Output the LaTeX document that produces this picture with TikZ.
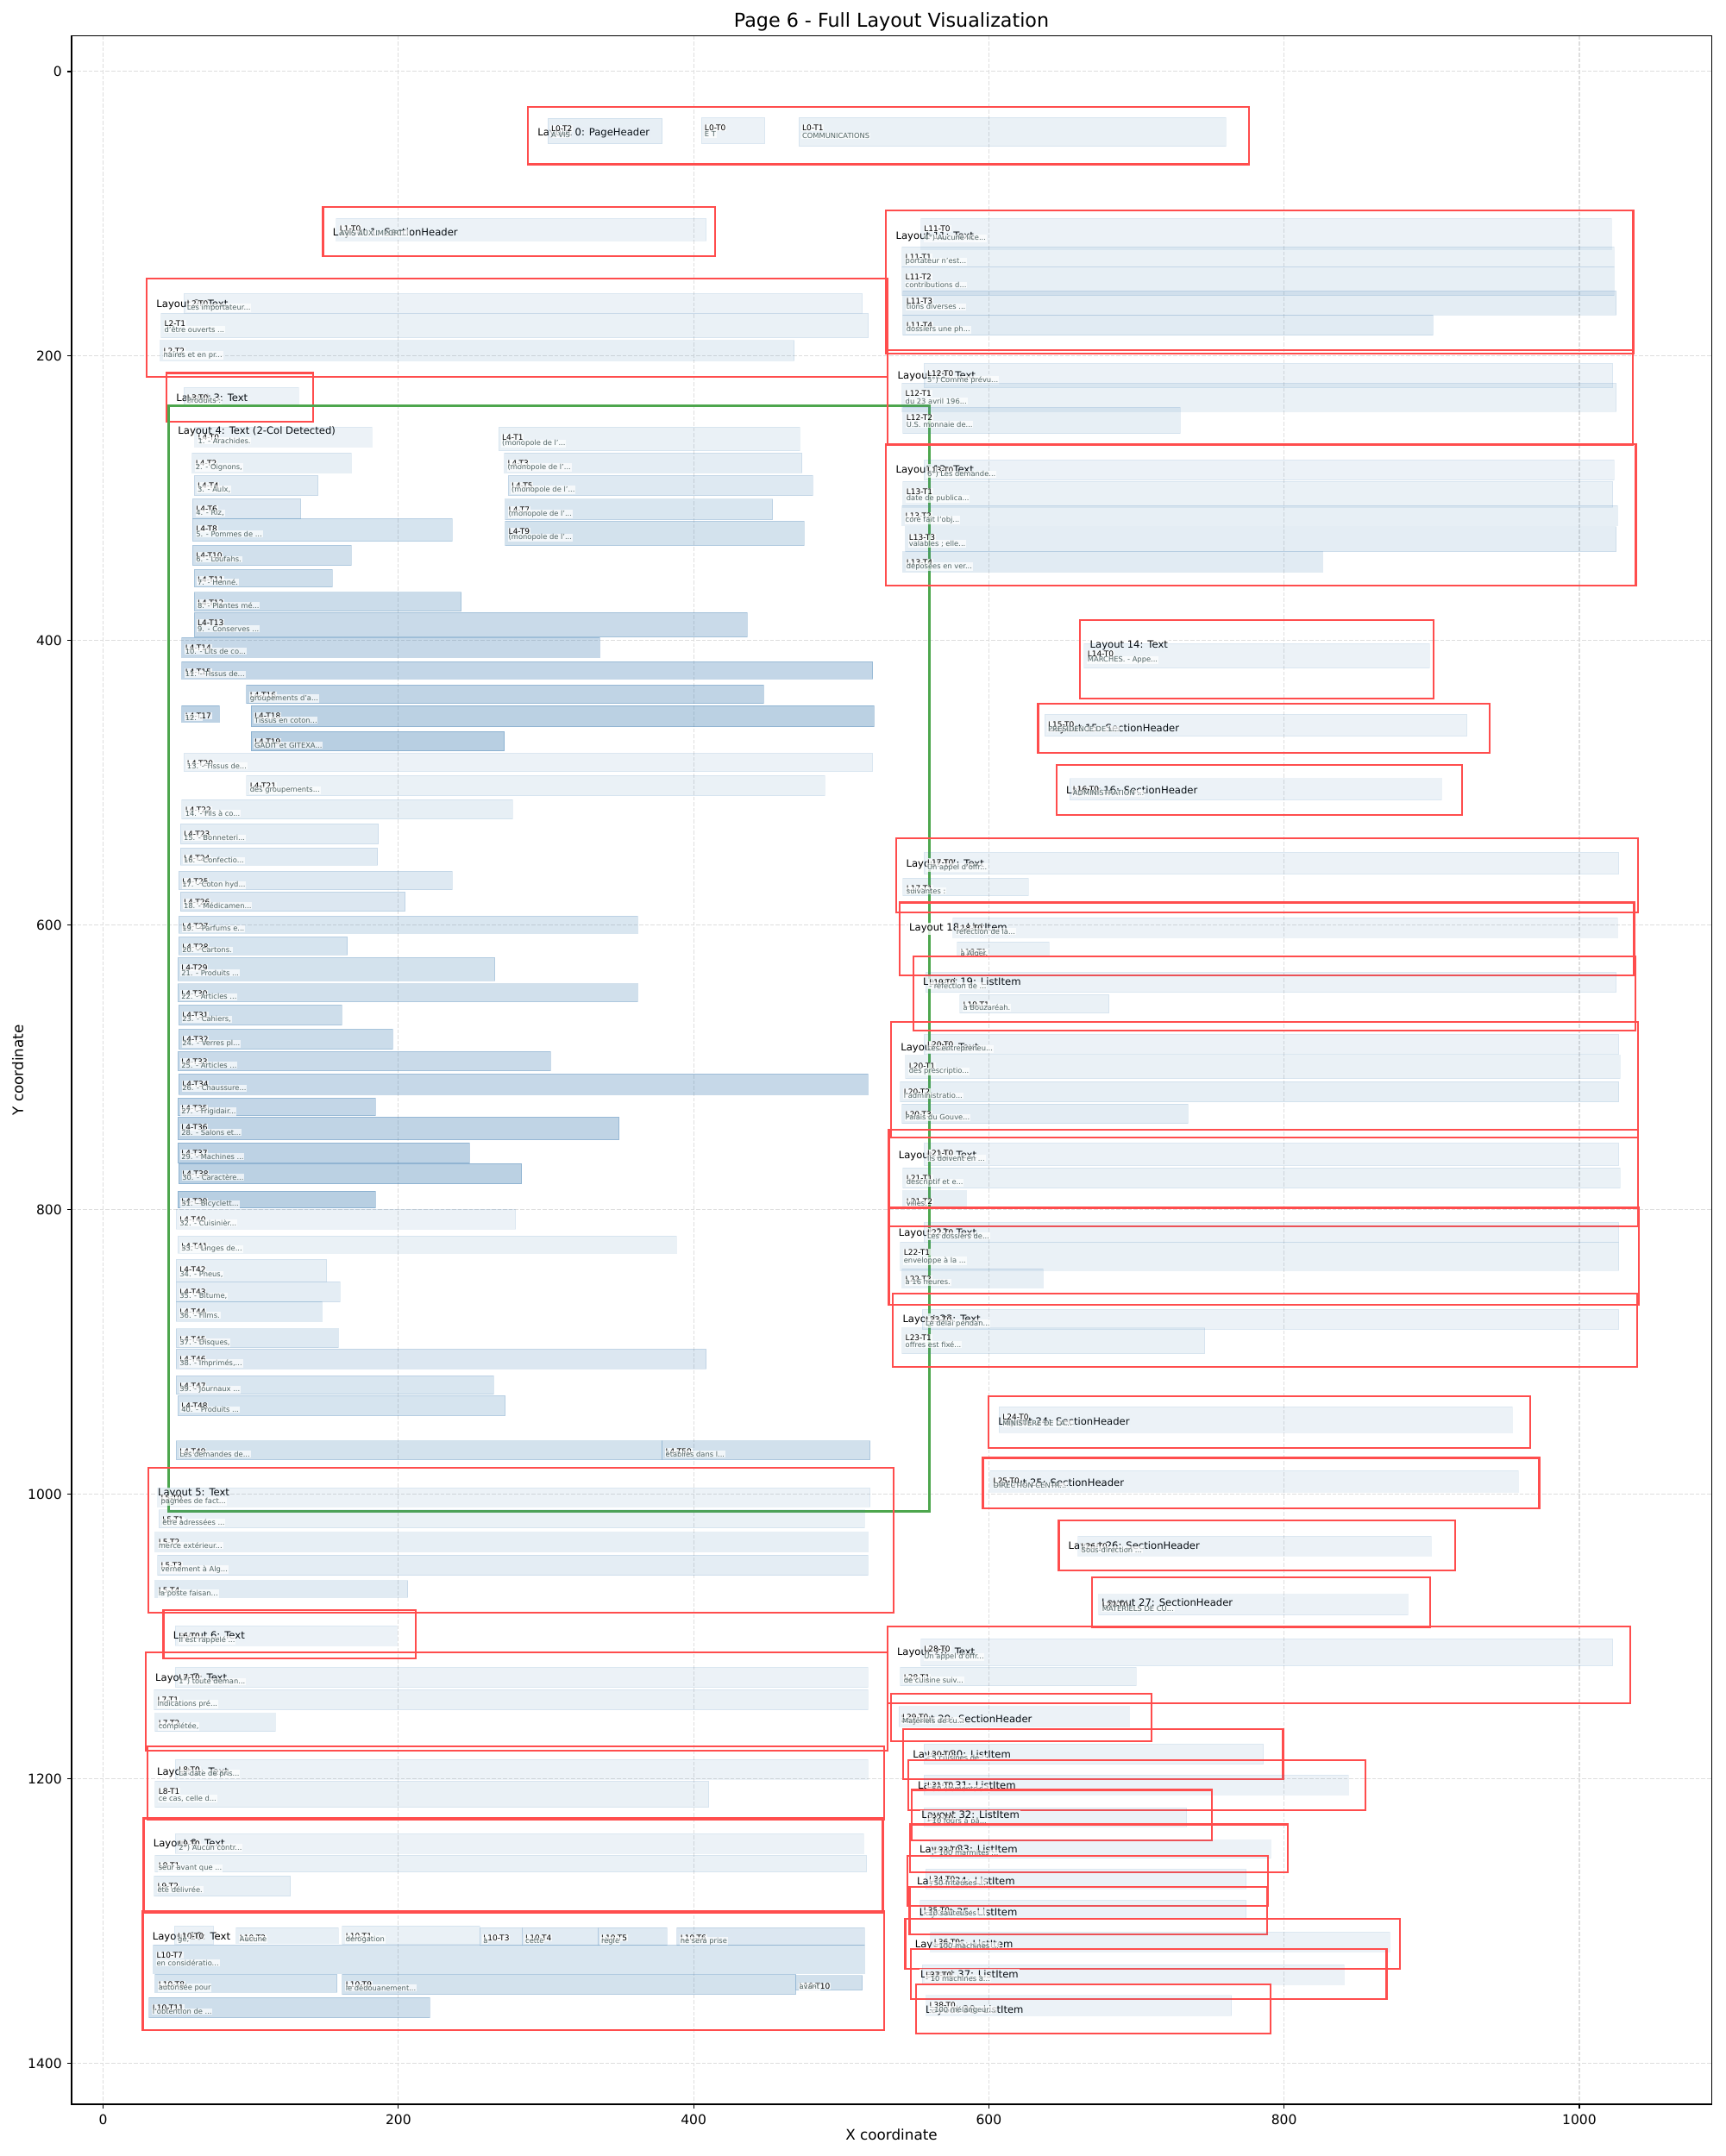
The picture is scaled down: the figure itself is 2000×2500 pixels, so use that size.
\documentclass[tikz,border=0pt]{standalone}
\usepackage{fontspec}
\setmainfont{DejaVu Sans}
\definecolor{sb}{RGB}{70,130,180}
\definecolor{lred}{RGB}{255,77,77}
\definecolor{lgreen}{RGB}{77,166,77}
\definecolor{snc}{RGB}{80,100,100}
\definecolor{gridc}{RGB}{222,222,222}
\newcommand{\tokbox}[7]{%
  \pgfmathsetmacro{\tkop}{0.1+0.015*mod(#2,20)}%
  \filldraw[fill=sb, draw=sb, fill opacity=\tkop, draw opacity=\tkop, line width=0.36bp] (#3,#4) rectangle (#5,#6);
  \node[idlab] (id-L#1-T#2) at ({#3+1.5},{#4+9.2}) {L#1-T#2};
  \node[snlab] (sn-L#1-T#2) at ({#3+1.5},{(#4+#6)/2+4.6}) {#7};
}
\newcommand{\laybox}[6]{%
  \draw[redbox] (#2,#3) rectangle (#4,#5);
  \node[laylab] (lay#1) at ({#2+5.5},{#3+20.2}) {Layout #1: #6};
}
\begin{document}
\begin{tikzpicture}[x=0.36bp,y=-0.36bp,
  idlab/.style={anchor=base west, font=\fontsize{3.25bp}{3.8bp}\selectfont, text=black, fill=white, fill opacity=0.7, text opacity=1, inner xsep=0.3bp, inner ysep=0.25bp},
  snlab/.style={anchor=base west, font=\fontsize{3.0bp}{3.6bp}\selectfont, text=snc, fill=white, fill opacity=0.7, text opacity=1, inner xsep=0.3bp, inner ysep=0.25bp},
  laylab/.style={anchor=base west, font=\fontsize{4.18bp}{5bp}\selectfont, text=black, fill=white, fill opacity=0.8, text opacity=1, inner sep=0.5bp},
  redbox/.style={draw=lred, line width=0.83bp},
  greenbox/.style={draw=lgreen, line width=1.1bp},
  gridl/.style={draw=gridc, line width=0.43bp, dash pattern=on 1.65bp off 0.72bp},
  tickl/.style={font=\fontsize{5.58bp}{6.5bp}\selectfont, inner sep=0pt}
]
\useasboundingbox (0,0) rectangle (2000,2500);
\node[font=\fontsize{8bp}{9.6bp}\selectfont, anchor=base, inner sep=0pt] (title) at (1033.5,32) {Page 6 - Full Layout Visualization};

\begin{scope}[shift={(119.6,82.9)}, xscale=1.7113, yscale=1.6496]
\foreach \v in {0,200,...,1000} \draw[gridl] (\v,-25.1) -- (\v,1428.9);
\foreach \v in {0,200,...,1400} \draw[gridl] (-21.4,\v) -- (1089.5,\v);

% Layout 0
\laybox{0}{287.8}{24.9}{776.3}{65.3}{PageHeader}
\tokbox{0}{0}{405.2}{32.2}{448.2}{50.8}{E T}
\tokbox{0}{1}{471.3}{32.2}{760.5}{52.8}{COMMUNICATIONS}
\tokbox{0}{2}{301.2}{33.0}{378.7}{50.8}{A VIS}
% Layout 1
\laybox{1}{149.0}{95.3}{414.6}{129.8}{SectionHeader}
\tokbox{1}{0}{158.0}{103.3}{408.6}{118.9}{AVIS AUX IMPORT...}
% Layout 2
\laybox{2}{29.5}{145.7}{531.6}{214.5}{Text}
\tokbox{2}{0}{54.6}{155.9}{514.2}{170.0}{Les importateur...}
\tokbox{2}{1}{39.2}{170.0}{518.3}{187.2}{d'être ouverts ...}
\tokbox{2}{2}{38.6}{189.2}{468.0}{203.3}{naires et en pr...}
% Layout 3
\laybox{3}{42.9}{212.0}{142.2}{246.2}{Text}
\tokbox{3}{0}{54.6}{222.1}{132.5}{235.3}{Produits :}
% Layout 4
\draw[greenbox] (44.1,234.7) rectangle (560.0,1012.0);
\node[laylab] (lay4) at (49.6,254.9) {Layout 4: Text (2-Col Detected)};
\tokbox{4}{0}{62.0}{250.0}{182.1}{264.0}{1. - Arachides.}
\tokbox{4}{1}{268.0}{250.0}{472.0}{266.6}{(monopole de l'...}
\tokbox{4}{2}{60.4}{268.2}{168.1}{282.1}{2. - Oignons,}
\tokbox{4}{3}{271.7}{268.2}{473.3}{282.1}{(monopole de l'...}
\tokbox{4}{4}{61.7}{283.8}{145.5}{298.1}{3. - Aulx,}
\tokbox{4}{5}{274.4}{283.8}{480.6}{298.1}{(monopole de l'...}
\tokbox{4}{6}{60.7}{300.3}{133.8}{314.5}{4. - Riz,}
\tokbox{4}{7}{272.4}{300.7}{453.5}{315.1}{(monopole de l'...}
\tokbox{4}{8}{60.7}{314.3}{236.4}{330.3}{5. - Pommes de ...}
\tokbox{4}{9}{272.4}{315.9}{475.0}{333.3}{(monopole de l'...}
\tokbox{4}{10}{60.7}{333.1}{168.1}{347.2}{6. - Loufahs.}
\tokbox{4}{11}{61.7}{350.0}{155.3}{362.4}{7. - Henné.}
\tokbox{4}{12}{61.7}{366.2}{242.5}{379.4}{8. - Plantes mé...}
\tokbox{4}{13}{61.7}{380.3}{436.4}{397.5}{9. - Conserves ...}
\tokbox{4}{14}{53.3}{397.9}{336.4}{411.9}{10. - Lits de co...}
\tokbox{4}{15}{53.3}{414.9}{521.3}{427.0}{11. - Tissus de...}
\tokbox{4}{16}{97.2}{431.1}{447.5}{444.2}{groupements d'a...}
\tokbox{4}{17}{53.3}{445.8}{78.8}{457.3}{12. -}
\tokbox{4}{18}{100.3}{445.8}{522.2}{460.6}{Tissus en coton...}
\tokbox{4}{19}{100.3}{464.0}{271.7}{477.6}{GADIT et GITEXA...}
\tokbox{4}{20}{54.6}{479.0}{521.3}{492.1}{13. - Tissus de...}
\tokbox{4}{21}{97.2}{494.9}{489.0}{509.1}{des groupements...}
\tokbox{4}{22}{53.3}{511.9}{277.4}{525.5}{14. - Fils à co...}
\tokbox{4}{23}{52.3}{528.9}{186.5}{543.0}{15. - Bonneteri...}
\tokbox{4}{24}{52.3}{545.8}{185.8}{558.0}{16. - Confectio...}
\tokbox{4}{25}{51.3}{562.2}{236.4}{575.2}{17. - Coton hyd...}
\tokbox{4}{26}{52.3}{576.8}{204.6}{590.3}{18. - Médicamen...}
\tokbox{4}{27}{51.3}{593.7}{362.2}{605.8}{19. - Parfums e...}
\tokbox{4}{28}{51.3}{608.3}{165.4}{621.0}{20. - Cartons.}
\tokbox{4}{29}{50.7}{622.8}{265.3}{639.2}{21. - Produits ...}
\tokbox{4}{30}{50.7}{641.2}{362.2}{654.0}{22. - Articles ...}
\tokbox{4}{31}{51.3}{656.2}{161.6}{670.3}{23. - Cahiers,}
\tokbox{4}{32}{51.3}{673.1}{196.2}{687.3}{24. - Verres pl...}
\tokbox{4}{33}{50.7}{688.9}{303.2}{702.5}{25. - Articles ...}
\tokbox{4}{34}{51.3}{704.6}{518.2}{719.2}{26. - Chaussure...}
\tokbox{4}{35}{50.7}{721.6}{184.5}{734.0}{27. - Frigidair...}
\tokbox{4}{36}{50.7}{735.0}{349.5}{751.0}{28. - Salons et...}
\tokbox{4}{37}{50.7}{753.1}{248.2}{767.3}{29. - Machines ...}
\tokbox{4}{38}{51.3}{767.7}{283.4}{781.9}{30. - Caractère...}
\tokbox{4}{39}{50.7}{787.1}{184.5}{798.9}{31. - Bicyclett...}
\tokbox{4}{40}{49.6}{799.8}{279.4}{813.8}{32. - Cuisinièr...}
\tokbox{4}{41}{50.7}{818.6}{388.4}{830.7}{33. - Linges de...}
\tokbox{4}{42}{49.6}{835.0}{151.3}{850.6}{34. - Pneus,}
\tokbox{4}{43}{49.6}{850.8}{160.6}{864.9}{35. - Bitume,}
\tokbox{4}{44}{49.6}{864.7}{148.3}{878.6}{36. - Films.}
\tokbox{4}{45}{49.6}{883.9}{159.3}{897.1}{37. - Disques,}
\tokbox{4}{46}{49.6}{898.0}{408.5}{912.0}{38. - Imprimés,...}
\tokbox{4}{47}{49.6}{916.9}{264.6}{929.9}{39. - Journaux ...}
\tokbox{4}{48}{50.7}{930.8}{272.4}{945.0}{40. - Produits ...}
\tokbox{4}{49}{49.6}{962.7}{378.7}{975.9}{Les demandes de...}
\tokbox{4}{50}{378.7}{962.7}{519.5}{975.9}{établies dans l...}
% Layout 5
\laybox{5}{30.5}{981.3}{535.3}{1083.4}{Text}
\tokbox{5}{0}{36.9}{995.5}{519.5}{1009.0}{pagnées de fact...}
\tokbox{5}{1}{37.9}{1011.0}{515.9}{1023.8}{être adressées ...}
\tokbox{5}{2}{35.2}{1026.8}{518.2}{1040.5}{merce extérieur...}
\tokbox{5}{3}{36.9}{1042.9}{518.2}{1057.1}{vernement à Alg...}
\tokbox{5}{4}{35.2}{1060.7}{206.3}{1072.7}{la poste faisan...}
% Layout 6
\laybox{6}{40.9}{1081.7}{211.6}{1115.3}{Text}
\tokbox{6}{0}{49.0}{1092.5}{199.2}{1106.6}{Il est rappelé ...}
% Layout 7
\laybox{7}{28.8}{1111.2}{531.6}{1180.3}{Text}
\tokbox{7}{0}{49.0}{1121.7}{518.2}{1135.9}{1°) toute deman...}
\tokbox{7}{1}{34.5}{1137.5}{518.2}{1151.7}{indications pré...}
\tokbox{7}{2}{35.2}{1154.1}{116.7}{1166.8}{complétée,}
% Layout 8
\laybox{8}{29.9}{1177.3}{528.9}{1228.8}{Text}
\tokbox{8}{0}{49.0}{1186.6}{518.2}{1200.5}{La date de pris...}
\tokbox{8}{1}{35.2}{1201.7}{410.2}{1220.2}{ce cas, celle d...}
% Layout 9
\laybox{9}{27.4}{1228.0}{528.2}{1294.5}{Text}
\tokbox{9}{0}{49.0}{1238.7}{515.1}{1252.7}{2°) Aucun contr...}
\tokbox{9}{1}{35.2}{1253.7}{517.2}{1265.6}{seur avant que ...}
\tokbox{9}{2}{34.5}{1268.4}{126.8}{1282.6}{été délivrée.}
% Layout 10
\laybox{10}{26.8}{1293.1}{528.9}{1376.9}{Text}
\tokbox{10}{0}{48.3}{1303.6}{74.8}{1316.7}{ge,}
\tokbox{10}{1}{162.0}{1303.6}{255.2}{1316.7}{dérogation}
\tokbox{10}{2}{90.2}{1304.8}{159.3}{1315.7}{Aucune}
\tokbox{10}{3}{255.2}{1304.8}{283.8}{1317.3}{à}
\tokbox{10}{4}{283.8}{1304.8}{335.1}{1317.3}{cette}
\tokbox{10}{5}{335.1}{1304.8}{382.0}{1317.3}{règle}
\tokbox{10}{6}{388.7}{1304.8}{515.9}{1317.3}{ne sera prise}
\tokbox{10}{7}{33.9}{1316.9}{515.9}{1336.9}{en considératio...}
\tokbox{10}{8}{35.2}{1337.5}{158.3}{1350.1}{autorisée pour}
\tokbox{10}{9}{162.0}{1337.5}{469.2}{1351.7}{le dédouanement...}
\tokbox{10}{10}{469.2}{1338.5}{514.2}{1348.7}{avant}
\tokbox{10}{11}{31.2}{1353.9}{221.3}{1368.1}{l'obtention de ...}
% Layout 11
\laybox{11}{530.4}{97.7}{1036.6}{198.3}{Text}
\tokbox{11}{0}{553.9}{103.3}{1021.8}{125.1}{4°) Aucune lice...}
\tokbox{11}{1}{541.2}{123.3}{1023.5}{137.2}{portateur n'est...}
\tokbox{11}{2}{541.2}{137.2}{1023.5}{157.5}{contributions d...}
\tokbox{11}{3}{541.9}{154.2}{1025.0}{171.2}{tions diverses ...}
\tokbox{11}{4}{541.9}{171.2}{900.8}{185.4}{dossiers une ph...}
% Layout 12
\laybox{12}{531.6}{195.9}{1036.2}{262.6}{Text}
\tokbox{12}{0}{556.0}{205.2}{1022.6}{222.4}{5°) Comme prévu...}
\tokbox{12}{1}{541.2}{219.1}{1025.0}{239.1}{du 23 avril 196...}
\tokbox{12}{2}{541.9}{236.1}{729.7}{254.5}{U.S. monnaie de...}
% Layout 13
\laybox{13}{530.4}{261.9}{1038.3}{361.2}{Text}
\tokbox{13}{0}{556.0}{273.0}{1023.5}{287.2}{6°) Les demande...}
\tokbox{13}{1}{541.9}{288.2}{1022.6}{306.4}{date de publica...}
\tokbox{13}{2}{541.2}{305.0}{1026.0}{319.1}{core fait l'obj...}
\tokbox{13}{3}{543.6}{320.1}{1025.0}{337.7}{valables ; elle...}
\tokbox{13}{4}{541.9}{337.7}{826.1}{351.8}{déposées en ver...}
% Layout 14
\laybox{14}{661.9}{385.4}{901.2}{440.8}{Text}
\tokbox{14}{0}{664.6}{402.0}{898.4}{419.4}{MARCHES. - Appe...}
% Layout 15
\laybox{15}{633.4}{444.2}{939.2}{479.0}{SectionHeader}
\tokbox{15}{0}{637.9}{451.7}{923.8}{467.3}{PRESIDENCE DE L...}
% Layout 16
\laybox{16}{645.8}{487.3}{920.4}{522.6}{SectionHeader}
\tokbox{16}{0}{654.7}{497.1}{906.6}{512.1}{ADMINISTRATION ...}
% Layout 17
\laybox{17}{537.4}{538.8}{1039.7}{591.3}{Text}
\tokbox{17}{0}{556.0}{548.7}{1026.7}{564.3}{Un appel d'offr...}
\tokbox{17}{1}{541.9}{567.1}{626.9}{579.4}{suivantes :}
% Layout 18
\laybox{18}{539.5}{584.2}{1037.2}{635.4}{ListItem}
\tokbox{18}{0}{575.8}{594.8}{1026.0}{608.9}{réfection de la...}
\tokbox{18}{1}{578.6}{611.9}{640.9}{622.6}{à Alger.}
% Layout 19
\laybox{19}{548.8}{622.2}{1037.9}{674.2}{ListItem}
\tokbox{19}{0}{557.3}{633.1}{1025.0}{647.3}{- réfection de ...}
\tokbox{19}{1}{580.3}{648.9}{681.4}{662.0}{à Bouzaréah.}
% Layout 20
\laybox{20}{533.7}{668.1}{1039.7}{749.3}{Text}
\tokbox{20}{0}{556.0}{676.8}{1026.7}{690.9}{Les entrepreneu...}
\tokbox{20}{1}{543.6}{691.7}{1027.7}{707.9}{des prescriptio...}
\tokbox{20}{2}{540.1}{710.1}{1026.7}{724.3}{l'administratio...}
\tokbox{20}{3}{541.2}{725.7}{734.9}{739.4}{Palais du Gouve...}
% Layout 21
\laybox{21}{532.3}{743.9}{1039.7}{811.9}{Text}
\tokbox{21}{0}{556.0}{753.2}{1026.7}{769.2}{Ils doivent en ...}
\tokbox{21}{1}{541.9}{770.8}{1027.7}{784.9}{descriptif et e...}
\tokbox{21}{2}{541.9}{786.9}{584.8}{799.0}{villes.}
% Layout 22
\laybox{22}{532.3}{798.8}{1040.3}{866.9}{Text}
\tokbox{22}{0}{556.0}{808.9}{1026.7}{822.9}{Les dossiers de...}
\tokbox{22}{1}{540.1}{822.9}{1026.7}{842.9}{enveloppe à la ...}
\tokbox{22}{2}{541.2}{841.7}{636.8}{855.0}{à 16 heures.}
% Layout 23
\laybox{23}{535.0}{859.0}{1039.0}{910.6}{Text}
\tokbox{23}{0}{554.9}{870.2}{1026.7}{884.3}{Le délai pendan...}
\tokbox{23}{1}{541.2}{883.0}{746.2}{901.2}{offres est fixé...}
% Layout 24
\laybox{24}{599.8}{931.2}{966.7}{967.6}{SectionHeader}
\tokbox{24}{0}{607.0}{938.7}{954.6}{956.9}{MINISTERE DE LA...}
% Layout 25
\laybox{25}{596.0}{974.6}{972.8}{1010.0}{SectionHeader}
\tokbox{25}{0}{600.8}{983.5}{958.8}{998.7}{DIRECTION CENTR...}
% Layout 26
\laybox{26}{647.3}{1018.5}{915.9}{1053.6}{SectionHeader}
\tokbox{26}{0}{660.4}{1029.5}{899.8}{1043.5}{Sous-direction ...}
% Layout 27
\laybox{27}{669.7}{1058.3}{898.8}{1093.7}{SectionHeader}
\tokbox{27}{0}{674.5}{1070.6}{884.0}{1085.0}{MATERIELS DE CU...}
% Layout 28
\laybox{28}{531.2}{1092.9}{1034.5}{1147.0}{Text}
\tokbox{28}{0}{553.9}{1101.7}{1022.6}{1120.7}{Un appel d'offr...}
\tokbox{28}{1}{540.1}{1121.7}{699.9}{1134.6}{de cuisine suiv...}
% Layout 29
\laybox{29}{533.7}{1140.4}{710.2}{1173.7}{SectionHeader}
\tokbox{29}{0}{539.1}{1149.4}{695.1}{1163.6}{Matériels de cu...}
% Layout 30
\laybox{30}{541.9}{1165.2}{799.3}{1200.2}{ListItem}
\tokbox{30}{0}{556.0}{1175.7}{786.0}{1189.9}{- 5 cuisines de...}
% Layout 31
\laybox{31}{545.3}{1187.0}{855.1}{1222.2}{ListItem}
\tokbox{31}{0}{556.0}{1197.4}{843.7}{1211.4}{- 50 éléments s...}
% Layout 32
\laybox{32}{547.8}{1208.0}{751.1}{1243.4}{ListItem}
\tokbox{32}{0}{556.0}{1220.5}{733.9}{1233.9}{- 10 fours à pâ...}
% Layout 33
\laybox{33}{546.5}{1232.2}{802.4}{1265.8}{ListItem}
\tokbox{33}{0}{560.6}{1243.1}{791.0}{1256.0}{- 100 marmites ...}
% Layout 34
\laybox{34}{544.7}{1254.3}{789.2}{1289.4}{ListItem}
\tokbox{34}{0}{557.2}{1263.6}{774.3}{1277.5}{- 50 friteuses ...}
% Layout 35
\laybox{35}{546.3}{1276.1}{788.4}{1309.6}{ListItem}
\tokbox{35}{0}{553.6}{1285.4}{774.3}{1298.8}{- 10 sauteuses ...}
% Layout 36
\laybox{36}{543.4}{1298.4}{878.3}{1333.7}{ListItem}
\tokbox{36}{0}{560.6}{1307.7}{871.6}{1321.8}{- 100 machines ...}
% Layout 37
\laybox{37}{547.1}{1319.6}{869.4}{1354.9}{ListItem}
\tokbox{37}{0}{554.9}{1330.7}{840.8}{1344.9}{- 10 machines à...}
% Layout 38
\laybox{38}{550.5}{1344.6}{790.7}{1379.0}{ListItem}
\tokbox{38}{0}{557.5}{1352.3}{764.4}{1366.6}{- 100 mélangeur...}
\end{scope}

% axes frame
\draw[line width=0.45bp] (83.0,41.5) rectangle (1984.1,2440.0);
\foreach \v in {0,200,...,1000} {
  \pgfmathsetmacro{\px}{119.6+1.7113*\v}
  \draw[line width=0.45bp] (\px,2440.0) -- (\px,2445.4);
  \node[tickl, anchor=north] (xt\v) at (\px,2451) {\v};
}
\foreach \v in {0,200,...,1400} {
  \pgfmathsetmacro{\py}{82.9+1.6496*\v}
  \draw[line width=0.45bp] (83.0,\py) -- (77.6,\py);
  \node[tickl, anchor=east] (yt\v) at (72.2,\py) {\v};
}
\node[font=\fontsize{6.05bp}{7bp}\selectfont, inner sep=0pt] (xlab) at (1033.5,2475) {X coordinate};
\node[font=\fontsize{6.05bp}{7bp}\selectfont, inner sep=0pt, rotate=90] (ylab) at (20.7,1240.8) {Y coordinate};
\end{tikzpicture}
\end{document}
